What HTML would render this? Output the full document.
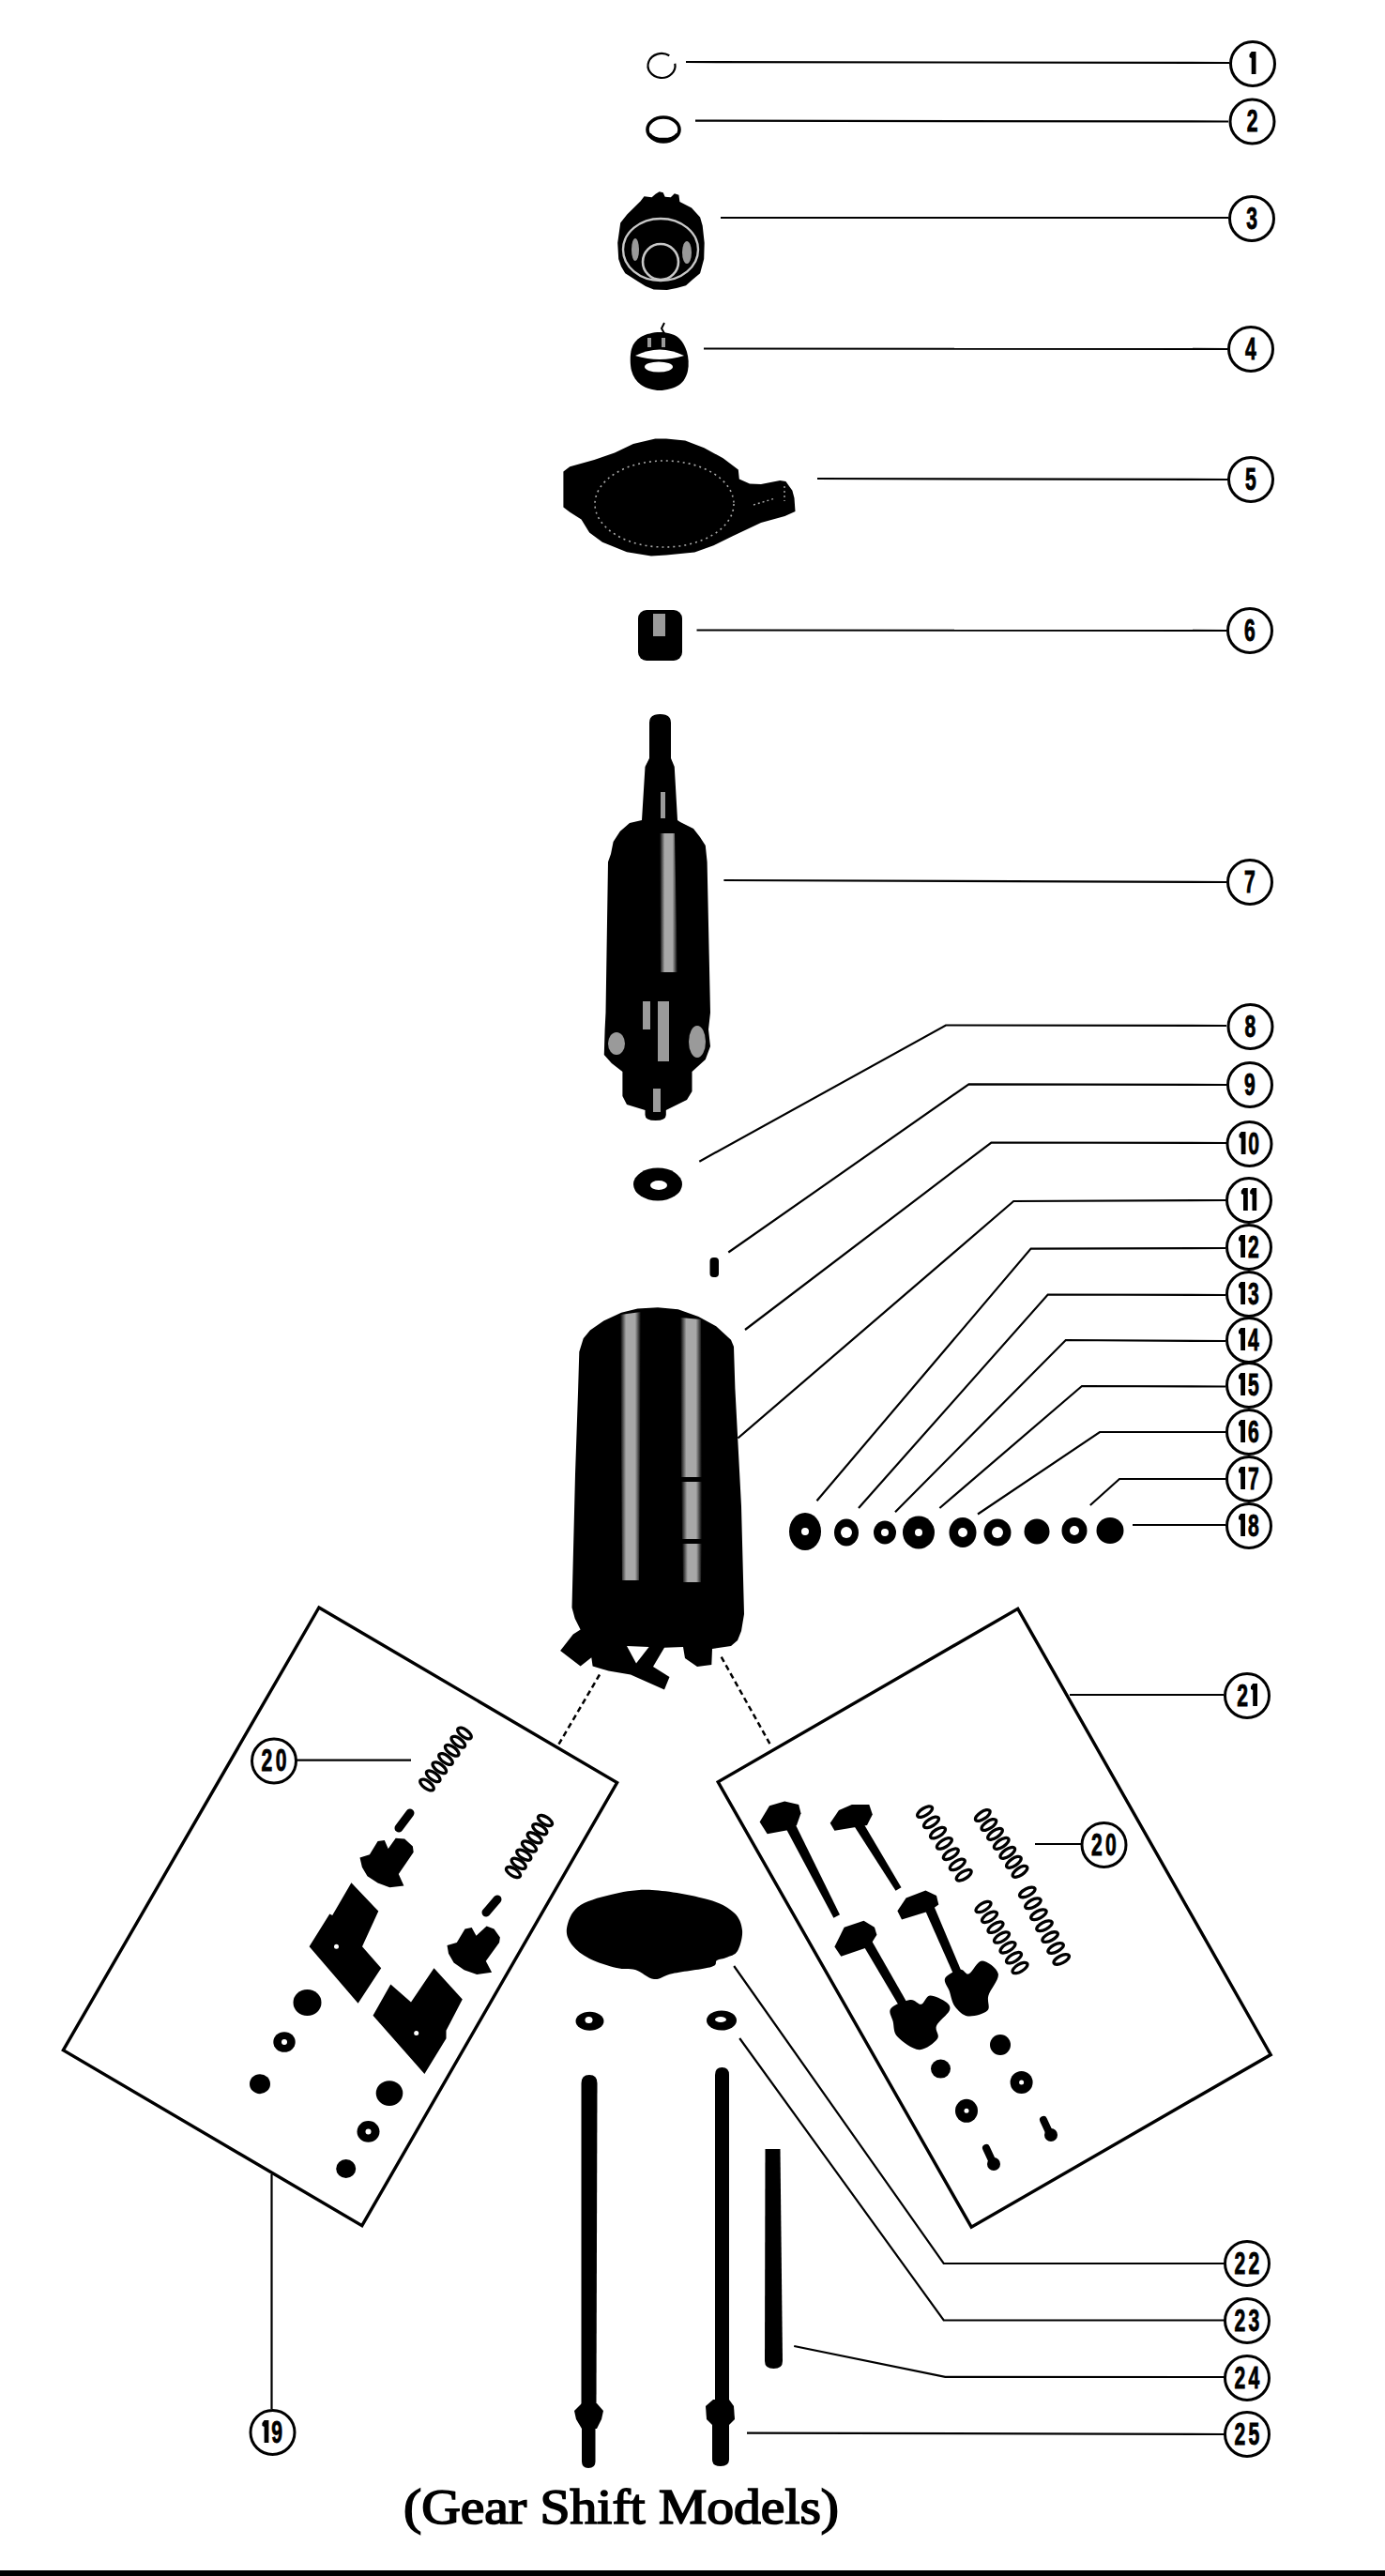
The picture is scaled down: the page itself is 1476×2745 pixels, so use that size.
<!DOCTYPE html>
<html><head><meta charset="utf-8"><title>Gear Shift Models</title>
<style>html,body{margin:0;padding:0;background:#fff;}svg{display:block;}</style></head>
<body><svg width="1476" height="2745" viewBox="0 0 1476 2745"><defs><linearGradient id="sg" x1="0" y1="0" x2="1" y2="0"><stop offset="0" stop-color="#000"/><stop offset="0.28" stop-color="#a8a8a8"/><stop offset="0.72" stop-color="#a8a8a8"/><stop offset="1" stop-color="#000"/></linearGradient></defs>
<polyline points="731.0,66.0 1310.0,67.0" fill="none" stroke="#000" stroke-width="2.2" stroke-linejoin="miter" />
<polyline points="741.0,128.6 1309.0,129.5" fill="none" stroke="#000" stroke-width="2.2" stroke-linejoin="miter" />
<polyline points="768.0,232.0 1309.0,232.0" fill="none" stroke="#000" stroke-width="2.2" stroke-linejoin="miter" />
<polyline points="750.0,371.5 1308.0,372.0" fill="none" stroke="#000" stroke-width="2.2" stroke-linejoin="miter" />
<polyline points="871.0,510.0 1308.0,511.0" fill="none" stroke="#000" stroke-width="2.2" stroke-linejoin="miter" />
<polyline points="742.5,671.5 1307.0,672.0" fill="none" stroke="#000" stroke-width="2.2" stroke-linejoin="miter" />
<polyline points="771.4,938.0 1307.0,940.0" fill="none" stroke="#000" stroke-width="2.2" stroke-linejoin="miter" />
<polyline points="745.3,1237.7 1008.0,1092.5 1307.0,1093.0" fill="none" stroke="#000" stroke-width="2.2" stroke-linejoin="miter" />
<polyline points="776.3,1334.5 1032.5,1155.3 1307.0,1156.0" fill="none" stroke="#000" stroke-width="2.2" stroke-linejoin="miter" />
<polyline points="794.0,1417.0 1056.4,1217.5 1307.0,1218.0" fill="none" stroke="#000" stroke-width="2.2" stroke-linejoin="miter" />
<polyline points="786.4,1532.5 1080.2,1280.0 1306.0,1279.0" fill="none" stroke="#000" stroke-width="2.2" stroke-linejoin="miter" />
<polyline points="870.5,1599.2 1098.6,1330.6 1306.0,1330.0" fill="none" stroke="#000" stroke-width="2.2" stroke-linejoin="miter" />
<polyline points="915.0,1607.0 1116.7,1379.5 1306.0,1380.0" fill="none" stroke="#000" stroke-width="2.2" stroke-linejoin="miter" />
<polyline points="954.0,1611.3 1135.8,1428.0 1306.0,1429.0" fill="none" stroke="#000" stroke-width="2.2" stroke-linejoin="miter" />
<polyline points="1001.4,1607.0 1153.0,1477.0 1306.0,1477.5" fill="none" stroke="#000" stroke-width="2.2" stroke-linejoin="miter" />
<polyline points="1042.0,1613.5 1172.0,1526.0 1306.0,1526.0" fill="none" stroke="#000" stroke-width="2.2" stroke-linejoin="miter" />
<polyline points="1161.8,1604.0 1193.0,1576.0 1306.0,1576.0" fill="none" stroke="#000" stroke-width="2.2" stroke-linejoin="miter" />
<polyline points="1207.0,1625.0 1306.0,1625.0" fill="none" stroke="#000" stroke-width="2.2" stroke-linejoin="miter" />
<polyline points="1140.0,1806.0 1304.0,1806.0" fill="none" stroke="#000" stroke-width="2.2" stroke-linejoin="miter" />
<polyline points="782.2,2095.0 1005.7,2412.0 1305.0,2412.0" fill="none" stroke="#000" stroke-width="2.2" stroke-linejoin="miter" />
<polyline points="788.2,2172.0 1005.7,2472.5 1305.0,2472.5" fill="none" stroke="#000" stroke-width="2.2" stroke-linejoin="miter" />
<polyline points="846.2,2500.0 1007.3,2532.8 1305.0,2533.0" fill="none" stroke="#000" stroke-width="2.2" stroke-linejoin="miter" />
<polyline points="796.0,2592.6 1305.0,2594.0" fill="none" stroke="#000" stroke-width="2.2" stroke-linejoin="miter" />
<polyline points="1103.0,1965.0 1152.0,1965.0" fill="none" stroke="#000" stroke-width="2.2" stroke-linejoin="miter" />
<polyline points="316.0,1875.7 438.0,1875.7" fill="none" stroke="#000" stroke-width="2.2" stroke-linejoin="miter" />
<polyline points="289.5,2317.0 289.5,2567.0" fill="none" stroke="#000" stroke-width="2.2" stroke-linejoin="miter" />
<polygon points="339.9,1713 657.6,1899.5 385.8,2371.7 67.4,2184.7" fill="none" stroke="#000" stroke-width="3.4"/>
<polygon points="1084.7,1714.3 1354.2,2189.5 1035.2,2373.2 765.2,1898.9" fill="none" stroke="#000" stroke-width="3.4"/>
<line x1="639" y1="1784.5" x2="595" y2="1859.5" stroke="#000" stroke-width="2.5" stroke-dasharray="6,4"/>
<line x1="768.7" y1="1765.6" x2="822.2" y2="1861.4" stroke="#000" stroke-width="2.5" stroke-dasharray="6,4"/>
<path d="M719.3,67.7 A14.5,13 0 1 1 713.3,59.3" fill="none" stroke="#000" stroke-width="2.2"/>
<ellipse cx="707" cy="138" rx="17" ry="13" fill="none" stroke="#000" stroke-width="3.6"/>
<path d="M692,143 A16,9 0 0 0 722,143" fill="none" stroke="#000" stroke-width="4"/>
<polygon points="686.5,209.3 694.6,210.3 698.6,206.8 702.7,204.3 706.7,205.3 708.7,209.8 714.8,210.3 718.8,206.3 723.4,207.8 724.4,214.9 737.0,221.4 746.1,231.6 748.7,240.6 750.7,258.8 750.2,276.0 746.1,291.2 738.0,298.0 731.0,304.3 721.0,307.0 710.8,308.9 696.6,308.4 688.0,305.0 680.4,300.3 666.3,291.2 662.0,284.0 659.2,276.0 658.2,258.8 661.2,237.6 668.3,228.5 682.5,214.4" fill="#000" />
<ellipse cx="704" cy="266" rx="40" ry="33" fill="none" stroke="#c8c8c8" stroke-width="2.4"/>
<circle cx="704" cy="279" r="19" fill="none" stroke="#c8c8c8" stroke-width="2.6"/>
<ellipse cx="677" cy="266" rx="4" ry="12" fill="#9a9a9a"/>
<ellipse cx="732" cy="269" rx="5" ry="12" fill="#9a9a9a"/>
<path d="M708,344 L705,350 L709,357" fill="none" stroke="#000" stroke-width="2"/>
<path d="M703.0,354.0 C709.5,354.0 717.2,355.5 722.0,359.0 C726.8,362.5 730.2,369.0 732.0,375.0 C733.8,381.0 734.3,389.2 733.0,395.0 C731.7,400.8 729.0,406.5 724.0,410.0 C719.0,413.5 709.8,416.0 703.0,416.0 C696.2,416.0 688.0,413.5 683.0,410.0 C678.0,406.5 674.7,401.3 673.0,395.0 C671.3,388.7 671.3,378.0 673.0,372.0 C674.7,366.0 678.0,362.0 683.0,359.0 C688.0,356.0 696.5,354.0 703.0,354.0 Z" fill="#000" />
<path d="M677,379 Q703,366 729,379 Q703,387 677,379 Z" fill="#fff"/>
<ellipse cx="702" cy="391" rx="15" ry="5.5" fill="#fff"/>
<rect x="690" y="360" width="4" height="10" fill="#9a9a9a"/>
<rect x="705" y="360" width="4" height="10" fill="#9a9a9a"/>
<polygon points="600.4,502.5 607.3,497.3 633.3,489.9 655.0,482.5 674.9,473.0 698.3,467.4 710.0,467.5 730.2,469.6 750.4,477.2 770.6,488.3 786.8,500.4 787.8,510.5 799.0,515.6 811.0,516.1 831.3,512.1 837.4,513.1 844.4,522.7 846.5,530.8 847.5,544.9 836.4,550.0 811.0,557.0 780.8,571.2 760.5,581.3 740.3,588.4 710.0,591.6 694.0,592.6 668.0,588.2 642.0,577.8 628.1,567.5 619.5,553.6 607.3,545.8 600.4,540.6" fill="#000" />
<ellipse cx="708" cy="537" rx="74" ry="46" fill="none" stroke="#aaa" stroke-width="1.6" stroke-dasharray="2,4"/><path d="M803,538 L826,531" stroke="#aaa" stroke-width="1.4" stroke-dasharray="2,3"/><path d="M836,518 L836,534" stroke="#aaa" stroke-width="1.4" stroke-dasharray="2,3"/>
<rect x="680" y="650" width="47" height="54" rx="9" ry="9" fill="#000"/>
<rect x="696" y="654" width="13" height="24" fill="#9a9a9a"/>
<path d="M692,808 L692,770 Q692,761 703.5,761 Q715,761 715,770 L715,808 L718.75,817 L722,874 L725,876 L739,883 L746,892 L751.8,901 L753.6,918.6 L757,1079 L755,1097 L757,1115 L751.8,1129 L737.5,1142 L737.5,1163 L732,1172 L709.8,1183 L709.8,1188 Q709.8,1194 698.6,1194 Q687.5,1194 687.5,1188 L687.5,1183 L668,1177 L663.4,1168 L663.4,1142 L651.8,1133 L643.8,1124 L644.6,1097 L645.5,1079 L648,918.6 L651,910 L653.6,897 L660.7,886 L671,877 L684,874 L687.5,817 Z" fill="#000"/>
<path d="M703,888 L719,888 L722,1036 L704,1036 Z" fill="url(#sg)"/>
<rect x="704" y="844" width="5" height="28" fill="#9a9a9a"/>
<rect x="701" y="1067" width="12" height="64" fill="#9a9a9a"/>
<rect x="685" y="1067" width="8" height="30" fill="#9a9a9a"/>
<ellipse cx="657" cy="1112" rx="9" ry="12" fill="#9a9a9a"/>
<ellipse cx="743" cy="1110" rx="9" ry="17" fill="#9a9a9a"/>
<rect x="696" y="1160" width="8" height="25" fill="#9a9a9a"/>
<ellipse cx="701" cy="1262" rx="26" ry="17.5" fill="#000"/>
<ellipse cx="702" cy="1263" rx="9" ry="5" fill="#fff"/>
<rect x="756.5" y="1340" width="9.5" height="21" rx="4" fill="#000"/>
<polygon points="701.0,1393.3 722.7,1395.2 744.4,1403.1 763.2,1413.2 779.0,1427.7 782.0,1435.0 783.4,1479.6 790.0,1605.0 793.0,1720.0 790.0,1738.0 786.0,1748.0 779.0,1754.0 759.0,1757.0 758.3,1774.0 743.0,1776.0 730.0,1767.0 728.0,1755.0 708.0,1755.8 696.0,1776.0 713.5,1787.0 708.0,1800.5 672.0,1784.4 648.5,1780.6 631.6,1775.4 630.3,1766.3 618.6,1775.4 597.1,1759.1 610.8,1741.6 618.6,1736.4 612.7,1724.7 609.5,1713.0 610.0,1692.0 613.0,1571.0 616.0,1484.0 617.3,1440.6 621.7,1426.2 628.9,1417.5 643.3,1407.4 662.1,1398.8 679.4,1394.4" fill="#000" />
<polygon points="668.0,1754.0 691.6,1755.0 678.0,1772.5" fill="#fff" />
<path d="M661,1401 L683,1398 L681,1684 L663,1684 Z" fill="url(#sg)"/>
<path d="M725,1404 L747,1406 L748,1574 L726,1574 Z" fill="url(#sg)"/>
<path d="M726,1579 L748,1579 L748,1640 L727,1640 Z" fill="url(#sg)"/>
<path d="M727,1645 L748,1645 L747,1686 L728,1686 Z" fill="url(#sg)"/>
<ellipse cx="858" cy="1632" rx="17" ry="20" fill="#000"/>
<circle cx="858" cy="1632" r="4" fill="#fff"/>
<ellipse cx="902" cy="1633" rx="13" ry="14.5" fill="#000"/>
<circle cx="902" cy="1633" r="6" fill="#fff"/>
<ellipse cx="943" cy="1633" rx="12" ry="12.5" fill="#000"/>
<circle cx="943" cy="1633" r="4" fill="#fff"/>
<ellipse cx="979" cy="1633" rx="17" ry="17.5" fill="#000"/>
<circle cx="979" cy="1633" r="4" fill="#fff"/>
<ellipse cx="1026" cy="1633" rx="14.5" ry="16" fill="#000"/>
<circle cx="1026" cy="1633" r="5" fill="#fff"/>
<ellipse cx="1063" cy="1633" rx="14.5" ry="14.5" fill="#000"/>
<circle cx="1063" cy="1633" r="6" fill="#fff"/>
<ellipse cx="1105" cy="1632" rx="13.5" ry="13.5" fill="#000"/>
<ellipse cx="1145" cy="1631" rx="13.5" ry="14" fill="#000"/>
<circle cx="1145" cy="1631" r="5" fill="#fff"/>
<ellipse cx="1183" cy="1631" rx="14.5" ry="14" fill="#000"/>
<path d="M604.0,2055.0 C605.0,2048.2 608.2,2038.0 616.0,2032.0 C623.8,2026.0 637.8,2022.0 651.0,2019.0 C664.2,2016.0 677.8,2013.2 695.0,2014.0 C712.2,2014.8 739.5,2020.0 754.0,2024.0 C768.5,2028.0 775.8,2032.5 782.0,2038.0 C788.2,2043.5 790.3,2050.2 791.0,2057.0 C791.7,2063.8 788.8,2074.2 786.0,2079.0 C783.2,2083.8 777.7,2084.3 774.0,2086.0 C770.3,2087.7 766.7,2087.3 764.0,2089.0 C761.3,2090.7 765.8,2093.7 758.0,2096.0 C750.2,2098.3 727.2,2100.8 717.0,2103.0 C706.8,2105.2 703.7,2109.7 697.0,2109.0 C690.3,2108.3 683.7,2101.0 677.0,2099.0 C670.3,2097.0 665.2,2099.0 657.0,2097.0 C648.8,2095.0 635.8,2091.0 628.0,2087.0 C620.2,2083.0 614.0,2078.3 610.0,2073.0 C606.0,2067.7 603.0,2061.8 604.0,2055.0 Z" fill="#000" />
<ellipse cx="628.5" cy="2153.7" rx="15" ry="10" fill="#000"/><ellipse cx="627.5" cy="2152.5" rx="4" ry="3.5" fill="#fff"/>
<ellipse cx="769" cy="2153" rx="16" ry="10.5" fill="#000"/><ellipse cx="768" cy="2152" rx="6" ry="3" fill="#fff"/>
<path d="M619.5,2220 Q619.5,2211 628,2211 Q636.5,2211 636.5,2220 L635.5,2562 L619.5,2562 Z" fill="#000"/>
<path d="M620,2561 L636,2561 L643,2569 L641,2578 L636,2588 L620,2588 L614,2578 L612,2569 Z" fill="#000"/>
<path d="M620,2586 L634.5,2586 L634.5,2623 Q634.5,2630 627,2630 Q620,2630 620,2623 Z" fill="#000"/>
<path d="M762,2211 Q762,2203 769.5,2203 Q777,2203 777,2211 L777,2560 L762,2560 Z" fill="#000"/>
<path d="M760,2557 L777,2557 L782,2564 L783,2578 L776,2585 L760,2585 L753,2578 L752,2564 Z" fill="#000"/>
<path d="M759,2584 L777,2584 L777,2621 Q777,2628 768,2628 Q759,2628 759,2621 Z" fill="#000"/>
<path d="M815.5,2290 L831.5,2290 L834,2516 Q834,2524 824.5,2524 Q815,2524 815,2516 Z" fill="#000"/>
<ellipse cx="455.0" cy="1902.0" rx="3.9" ry="8.5" transform="rotate(-54.0 455.0 1902.0)" fill="none" stroke="#000" stroke-width="3.3"/>
<ellipse cx="461.7" cy="1892.8" rx="3.9" ry="8.5" transform="rotate(-54.0 461.7 1892.8)" fill="none" stroke="#000" stroke-width="3.3"/>
<ellipse cx="468.3" cy="1883.7" rx="3.9" ry="8.5" transform="rotate(-54.0 468.3 1883.7)" fill="none" stroke="#000" stroke-width="3.3"/>
<ellipse cx="475.0" cy="1874.5" rx="3.9" ry="8.5" transform="rotate(-54.0 475.0 1874.5)" fill="none" stroke="#000" stroke-width="3.3"/>
<ellipse cx="481.7" cy="1865.3" rx="3.9" ry="8.5" transform="rotate(-54.0 481.7 1865.3)" fill="none" stroke="#000" stroke-width="3.3"/>
<ellipse cx="488.3" cy="1856.2" rx="3.9" ry="8.5" transform="rotate(-54.0 488.3 1856.2)" fill="none" stroke="#000" stroke-width="3.3"/>
<ellipse cx="495.0" cy="1847.0" rx="3.9" ry="8.5" transform="rotate(-54.0 495.0 1847.0)" fill="none" stroke="#000" stroke-width="3.3"/>
<ellipse cx="547.0" cy="1995.0" rx="3.9" ry="8.5" transform="rotate(-58.3 547.0 1995.0)" fill="none" stroke="#000" stroke-width="3.3"/>
<ellipse cx="552.7" cy="1985.8" rx="3.9" ry="8.5" transform="rotate(-58.3 552.7 1985.8)" fill="none" stroke="#000" stroke-width="3.3"/>
<ellipse cx="558.3" cy="1976.7" rx="3.9" ry="8.5" transform="rotate(-58.3 558.3 1976.7)" fill="none" stroke="#000" stroke-width="3.3"/>
<ellipse cx="564.0" cy="1967.5" rx="3.9" ry="8.5" transform="rotate(-58.3 564.0 1967.5)" fill="none" stroke="#000" stroke-width="3.3"/>
<ellipse cx="569.7" cy="1958.3" rx="3.9" ry="8.5" transform="rotate(-58.3 569.7 1958.3)" fill="none" stroke="#000" stroke-width="3.3"/>
<ellipse cx="575.3" cy="1949.2" rx="3.9" ry="8.5" transform="rotate(-58.3 575.3 1949.2)" fill="none" stroke="#000" stroke-width="3.3"/>
<ellipse cx="581.0" cy="1940.0" rx="3.9" ry="8.5" transform="rotate(-58.3 581.0 1940.0)" fill="none" stroke="#000" stroke-width="3.3"/>
<line x1="425" y1="1948" x2="437" y2="1932" stroke="#000" stroke-width="9" stroke-linecap="round"/>
<line x1="518" y1="2038" x2="530" y2="2024" stroke="#000" stroke-width="9" stroke-linecap="round"/>
<polygon points="383.5,1979.4 393.9,1976.2 402.6,1961.9 409.8,1961.1 413.7,1969.9 421.7,1958.7 431.2,1959.5 439.9,1967.5 440.7,1973.8 424.8,1996.9 430.4,2009.6 415.3,2011.2 402.6,2006.4 391.5,1999.2 385.9,1989.7" fill="#000" />
<polygon points="476.5,2073.1 486.8,2069.9 495.5,2055.6 502.7,2054.0 507.5,2062.8 518.6,2052.5 526.5,2055.6 532.9,2064.4 532.1,2069.9 517.8,2089.8 524.1,2101.7 508.2,2104.1 494.7,2099.3 483.6,2091.4 478.0,2081.8" fill="#000" />
<polygon points="329.6,2074.2 351.3,2039.5 354.2,2041.0 374.4,2006.3 403.3,2036.6 386.0,2074.2 406.2,2097.3 381.6,2134.8" fill="#000" />
<circle cx="358.5" cy="2074.2" r="2.5" fill="#fff"/>
<polygon points="397.5,2147.8 416.3,2114.6 438.0,2133.4 462.5,2097.3 492.8,2130.5 475.5,2163.7 475.5,2172.3 452.4,2210.0" fill="#000" />
<circle cx="443.7" cy="2166.6" r="2.5" fill="#fff"/>
<ellipse cx="327.5" cy="2134" rx="15" ry="14" fill="#000"/>
<ellipse cx="303" cy="2176" rx="11.7" ry="10.8" fill="#000"/>
<circle cx="303" cy="2176" r="3" fill="#fff"/>
<ellipse cx="277" cy="2220.7" rx="11" ry="10.5" fill="#000"/>
<ellipse cx="415" cy="2230.6" rx="14.3" ry="13.4" fill="#000"/>
<ellipse cx="392.5" cy="2271.4" rx="12" ry="11.3" fill="#000"/>
<circle cx="392.5" cy="2271.4" r="3" fill="#fff"/>
<ellipse cx="368.7" cy="2311" rx="10.5" ry="10" fill="#000"/>
<polygon points="809.6,1941.6 820.0,1924.3 836.2,1919.6 851.2,1923.1 853.5,1932.3 849.0,1945.0 842.0,1949.7 817.7,1954.3" fill="#000" />
<polygon points="837.1,1947.5 888.4,2043.7 895.0,2040.3 846.9,1942.5" fill="#000" />
<polygon points="884.7,1942.7 894.0,1928.9 907.8,1923.1 926.3,1923.1 929.8,1933.5 924.0,1945.0 889.4,1950.8" fill="#000" />
<polygon points="910.7,1946.6 954.5,2014.8 960.5,2011.2 919.3,1941.4" fill="#000" />
<polygon points="889.4,2074.4 899.7,2053.7 920.5,2046.7 932.0,2053.7 934.4,2061.7 926.3,2074.4 896.3,2084.8" fill="#000" />
<polygon points="918.5,2070.6 962.1,2144.3 969.9,2139.7 927.5,2065.4" fill="#000" />
<path d="M949.4,2140.3 C952.4,2136.4 964.6,2131.8 970.0,2131.0 C975.4,2130.2 978.3,2136.5 981.8,2135.7 C985.3,2134.9 986.6,2126.8 991.0,2126.4 C995.4,2126.0 1004.8,2130.7 1008.3,2133.4 C1011.8,2136.1 1013.5,2138.4 1011.8,2142.6 C1010.1,2146.8 1000.1,2153.8 998.0,2158.8 C995.9,2163.8 1002.1,2168.4 999.0,2172.6 C995.9,2176.8 986.6,2184.6 979.5,2184.2 C972.4,2183.8 961.0,2175.3 956.4,2170.3 C951.8,2165.3 952.9,2159.2 951.7,2154.2 C950.5,2149.2 946.4,2144.2 949.4,2140.3 Z" fill="#000" />
<polygon points="956.4,2036.3 965.6,2022.5 986.4,2014.4 998.0,2020.1 1000.3,2029.4 991.0,2036.3 961.0,2045.6" fill="#000" />
<polygon points="985.2,2034.1 1017.9,2107.8 1026.1,2104.2 994.8,2029.9" fill="#000" />
<path d="M1007.2,2108.0 C1009.1,2104.2 1019.2,2099.5 1023.4,2098.7 C1027.6,2097.9 1028.8,2104.8 1032.6,2103.3 C1036.4,2101.8 1041.3,2089.5 1046.5,2089.5 C1051.7,2089.5 1062.6,2097.2 1063.8,2103.3 C1065.0,2109.5 1055.3,2119.9 1053.4,2126.4 C1051.5,2132.9 1055.9,2138.9 1052.2,2142.6 C1048.5,2146.3 1037.2,2149.2 1031.4,2148.4 C1025.6,2147.6 1020.9,2142.4 1017.6,2138.0 C1014.3,2133.6 1013.5,2126.8 1011.8,2121.8 C1010.1,2116.8 1005.3,2111.8 1007.2,2108.0 Z" fill="#000" />
<ellipse cx="985.6" cy="1930.6" rx="3.9" ry="9.0" transform="rotate(58.4 985.6 1930.6)" fill="none" stroke="#000" stroke-width="3.3"/>
<ellipse cx="992.5" cy="1941.9" rx="3.9" ry="9.0" transform="rotate(58.4 992.5 1941.9)" fill="none" stroke="#000" stroke-width="3.3"/>
<ellipse cx="999.5" cy="1953.1" rx="3.9" ry="9.0" transform="rotate(58.4 999.5 1953.1)" fill="none" stroke="#000" stroke-width="3.3"/>
<ellipse cx="1006.4" cy="1964.4" rx="3.9" ry="9.0" transform="rotate(58.4 1006.4 1964.4)" fill="none" stroke="#000" stroke-width="3.3"/>
<ellipse cx="1013.3" cy="1975.7" rx="3.9" ry="9.0" transform="rotate(58.4 1013.3 1975.7)" fill="none" stroke="#000" stroke-width="3.3"/>
<ellipse cx="1020.3" cy="1986.9" rx="3.9" ry="9.0" transform="rotate(58.4 1020.3 1986.9)" fill="none" stroke="#000" stroke-width="3.3"/>
<ellipse cx="1027.2" cy="1998.2" rx="3.9" ry="9.0" transform="rotate(58.4 1027.2 1998.2)" fill="none" stroke="#000" stroke-width="3.3"/>
<ellipse cx="1047.3" cy="1934.5" rx="3.9" ry="9.0" transform="rotate(56.4 1047.3 1934.5)" fill="none" stroke="#000" stroke-width="3.3"/>
<ellipse cx="1053.9" cy="1944.5" rx="3.9" ry="9.0" transform="rotate(56.4 1053.9 1944.5)" fill="none" stroke="#000" stroke-width="3.3"/>
<ellipse cx="1060.5" cy="1954.4" rx="3.9" ry="9.0" transform="rotate(56.4 1060.5 1954.4)" fill="none" stroke="#000" stroke-width="3.3"/>
<ellipse cx="1067.2" cy="1964.4" rx="3.9" ry="9.0" transform="rotate(56.4 1067.2 1964.4)" fill="none" stroke="#000" stroke-width="3.3"/>
<ellipse cx="1073.8" cy="1974.4" rx="3.9" ry="9.0" transform="rotate(56.4 1073.8 1974.4)" fill="none" stroke="#000" stroke-width="3.3"/>
<ellipse cx="1080.4" cy="1984.3" rx="3.9" ry="9.0" transform="rotate(56.4 1080.4 1984.3)" fill="none" stroke="#000" stroke-width="3.3"/>
<ellipse cx="1087.0" cy="1994.3" rx="3.9" ry="9.0" transform="rotate(56.4 1087.0 1994.3)" fill="none" stroke="#000" stroke-width="3.3"/>
<ellipse cx="1048.0" cy="2032.0" rx="3.9" ry="9.0" transform="rotate(59.0 1048.0 2032.0)" fill="none" stroke="#000" stroke-width="3.3"/>
<ellipse cx="1054.5" cy="2042.8" rx="3.9" ry="9.0" transform="rotate(59.0 1054.5 2042.8)" fill="none" stroke="#000" stroke-width="3.3"/>
<ellipse cx="1061.0" cy="2053.7" rx="3.9" ry="9.0" transform="rotate(59.0 1061.0 2053.7)" fill="none" stroke="#000" stroke-width="3.3"/>
<ellipse cx="1067.5" cy="2064.5" rx="3.9" ry="9.0" transform="rotate(59.0 1067.5 2064.5)" fill="none" stroke="#000" stroke-width="3.3"/>
<ellipse cx="1074.0" cy="2075.3" rx="3.9" ry="9.0" transform="rotate(59.0 1074.0 2075.3)" fill="none" stroke="#000" stroke-width="3.3"/>
<ellipse cx="1080.5" cy="2086.2" rx="3.9" ry="9.0" transform="rotate(59.0 1080.5 2086.2)" fill="none" stroke="#000" stroke-width="3.3"/>
<ellipse cx="1087.0" cy="2097.0" rx="3.9" ry="9.0" transform="rotate(59.0 1087.0 2097.0)" fill="none" stroke="#000" stroke-width="3.3"/>
<ellipse cx="1094.8" cy="2016.4" rx="3.9" ry="9.0" transform="rotate(63.0 1094.8 2016.4)" fill="none" stroke="#000" stroke-width="3.3"/>
<ellipse cx="1100.9" cy="2028.3" rx="3.9" ry="9.0" transform="rotate(63.0 1100.9 2028.3)" fill="none" stroke="#000" stroke-width="3.3"/>
<ellipse cx="1106.9" cy="2040.2" rx="3.9" ry="9.0" transform="rotate(63.0 1106.9 2040.2)" fill="none" stroke="#000" stroke-width="3.3"/>
<ellipse cx="1113.0" cy="2052.2" rx="3.9" ry="9.0" transform="rotate(63.0 1113.0 2052.2)" fill="none" stroke="#000" stroke-width="3.3"/>
<ellipse cx="1119.1" cy="2064.1" rx="3.9" ry="9.0" transform="rotate(63.0 1119.1 2064.1)" fill="none" stroke="#000" stroke-width="3.3"/>
<ellipse cx="1125.1" cy="2076.0" rx="3.9" ry="9.0" transform="rotate(63.0 1125.1 2076.0)" fill="none" stroke="#000" stroke-width="3.3"/>
<ellipse cx="1131.2" cy="2087.9" rx="3.9" ry="9.0" transform="rotate(63.0 1131.2 2087.9)" fill="none" stroke="#000" stroke-width="3.3"/>
<ellipse cx="1066" cy="2179" rx="11" ry="11" fill="#000"/>
<ellipse cx="1002.5" cy="2204.6" rx="10.5" ry="10" fill="#000"/>
<ellipse cx="1088.6" cy="2219" rx="12" ry="12" fill="#000"/>
<circle cx="1088.6" cy="2219" r="2.5" fill="#fff"/>
<ellipse cx="1030" cy="2249.3" rx="12" ry="12.5" fill="#000"/>
<circle cx="1030" cy="2249.3" r="2.5" fill="#fff"/>
<line x1="1112" y1="2259" x2="1118" y2="2272" stroke="#000" stroke-width="8" stroke-linecap="round"/><circle cx="1120" cy="2275" r="7" fill="#000"/>
<line x1="1051" y1="2289" x2="1057" y2="2302" stroke="#000" stroke-width="8" stroke-linecap="round"/><circle cx="1059" cy="2306" r="7" fill="#000"/>
<circle cx="1176.5" cy="1966" r="23.5" fill="#fff" stroke="#000" stroke-width="3"/>
<text x="1169.0" y="1976.8" text-anchor="middle" font-family="Liberation Sans" font-weight="bold" font-size="33" stroke="#000" stroke-width="0.9" transform="translate(1169.0 0) scale(0.64 1) translate(-1169.0 0)">2</text>
<text x="1184.0" y="1976.8" text-anchor="middle" font-family="Liberation Sans" font-weight="bold" font-size="33" stroke="#000" stroke-width="0.9" transform="translate(1184.0 0) scale(0.64 1) translate(-1184.0 0)">0</text>
<circle cx="292" cy="1876.5" r="23.5" fill="#fff" stroke="#000" stroke-width="3"/>
<text x="284.4" y="1887.3" text-anchor="middle" font-family="Liberation Sans" font-weight="bold" font-size="33" stroke="#000" stroke-width="0.9" transform="translate(284.4 0) scale(0.64 1) translate(-284.4 0)">2</text>
<text x="299.6" y="1887.3" text-anchor="middle" font-family="Liberation Sans" font-weight="bold" font-size="33" stroke="#000" stroke-width="0.9" transform="translate(299.6 0) scale(0.64 1) translate(-299.6 0)">0</text>
<circle cx="290.5" cy="2592" r="23.5" fill="#fff" stroke="#000" stroke-width="3"/>
<path d="M281.6,2579.0 L286.4,2579.0 L286.4,2603.0 L281.6,2603.0 L281.6,2586.0 L279.4,2585.0 L279.4,2582.0 Z" fill="#000"/>
<text x="295.2" y="2602.8" text-anchor="middle" font-family="Liberation Sans" font-weight="bold" font-size="33" stroke="#000" stroke-width="0.9" transform="translate(295.2 0) scale(0.64 1) translate(-295.2 0)">9</text>
<circle cx="1335" cy="68" r="23.5" fill="#fff" stroke="#000" stroke-width="3"/>
<path d="M1333.7,55.0 L1338.5,55.0 L1338.5,79.0 L1333.7,79.0 L1333.7,62.0 L1331.5,61.0 L1331.5,58.0 Z" fill="#000"/>
<circle cx="1334.5" cy="129.5" r="23.5" fill="#fff" stroke="#000" stroke-width="3"/>
<text x="1334.5" y="140.3" text-anchor="middle" font-family="Liberation Sans" font-weight="bold" font-size="33" stroke="#000" stroke-width="0.9" transform="translate(1334.5 0) scale(0.64 1) translate(-1334.5 0)">2</text>
<circle cx="1334" cy="233" r="23.5" fill="#fff" stroke="#000" stroke-width="3"/>
<text x="1334.0" y="243.8" text-anchor="middle" font-family="Liberation Sans" font-weight="bold" font-size="33" stroke="#000" stroke-width="0.9" transform="translate(1334.0 0) scale(0.64 1) translate(-1334.0 0)">3</text>
<circle cx="1333" cy="372" r="23.5" fill="#fff" stroke="#000" stroke-width="3"/>
<text x="1333.0" y="382.8" text-anchor="middle" font-family="Liberation Sans" font-weight="bold" font-size="33" stroke="#000" stroke-width="0.9" transform="translate(1333.0 0) scale(0.64 1) translate(-1333.0 0)">4</text>
<circle cx="1333" cy="511" r="23.5" fill="#fff" stroke="#000" stroke-width="3"/>
<text x="1333.0" y="521.8" text-anchor="middle" font-family="Liberation Sans" font-weight="bold" font-size="33" stroke="#000" stroke-width="0.9" transform="translate(1333.0 0) scale(0.64 1) translate(-1333.0 0)">5</text>
<circle cx="1332" cy="672" r="23.5" fill="#fff" stroke="#000" stroke-width="3"/>
<text x="1332.0" y="682.8" text-anchor="middle" font-family="Liberation Sans" font-weight="bold" font-size="33" stroke="#000" stroke-width="0.9" transform="translate(1332.0 0) scale(0.64 1) translate(-1332.0 0)">6</text>
<circle cx="1332" cy="940" r="23.5" fill="#fff" stroke="#000" stroke-width="3"/>
<text x="1332.0" y="950.8" text-anchor="middle" font-family="Liberation Sans" font-weight="bold" font-size="33" stroke="#000" stroke-width="0.9" transform="translate(1332.0 0) scale(0.64 1) translate(-1332.0 0)">7</text>
<circle cx="1332.5" cy="1094" r="23.5" fill="#fff" stroke="#000" stroke-width="3"/>
<text x="1332.5" y="1104.8" text-anchor="middle" font-family="Liberation Sans" font-weight="bold" font-size="33" stroke="#000" stroke-width="0.9" transform="translate(1332.5 0) scale(0.64 1) translate(-1332.5 0)">8</text>
<circle cx="1332" cy="1156" r="23.5" fill="#fff" stroke="#000" stroke-width="3"/>
<text x="1332.0" y="1166.8" text-anchor="middle" font-family="Liberation Sans" font-weight="bold" font-size="33" stroke="#000" stroke-width="0.9" transform="translate(1332.0 0) scale(0.64 1) translate(-1332.0 0)">9</text>
<circle cx="1331.5" cy="1219" r="23.5" fill="#fff" stroke="#000" stroke-width="3"/>
<path d="M1322.7,1206.0 L1327.5,1206.0 L1327.5,1230.0 L1322.7,1230.0 L1322.7,1213.0 L1320.5,1212.0 L1320.5,1209.0 Z" fill="#000"/>
<text x="1336.2" y="1229.8" text-anchor="middle" font-family="Liberation Sans" font-weight="bold" font-size="33" stroke="#000" stroke-width="0.9" transform="translate(1336.2 0) scale(0.64 1) translate(-1336.2 0)">0</text>
<circle cx="1331" cy="1279" r="23.5" fill="#fff" stroke="#000" stroke-width="3"/>
<path d="M1325.0,1266.0 L1329.8,1266.0 L1329.8,1290.0 L1325.0,1290.0 L1325.0,1273.0 L1322.8,1272.0 L1322.8,1269.0 Z" fill="#000"/>
<path d="M1334.5,1266.0 L1339.2,1266.0 L1339.2,1290.0 L1334.5,1290.0 L1334.5,1273.0 L1332.2,1272.0 L1332.2,1269.0 Z" fill="#000"/>
<circle cx="1331" cy="1329" r="23.5" fill="#fff" stroke="#000" stroke-width="3"/>
<path d="M1322.2,1316.0 L1327.0,1316.0 L1327.0,1340.0 L1322.2,1340.0 L1322.2,1323.0 L1320.0,1322.0 L1320.0,1319.0 Z" fill="#000"/>
<text x="1335.8" y="1339.8" text-anchor="middle" font-family="Liberation Sans" font-weight="bold" font-size="33" stroke="#000" stroke-width="0.9" transform="translate(1335.8 0) scale(0.64 1) translate(-1335.8 0)">2</text>
<circle cx="1331" cy="1379" r="23.5" fill="#fff" stroke="#000" stroke-width="3"/>
<path d="M1322.2,1366.0 L1327.0,1366.0 L1327.0,1390.0 L1322.2,1390.0 L1322.2,1373.0 L1320.0,1372.0 L1320.0,1369.0 Z" fill="#000"/>
<text x="1335.8" y="1389.8" text-anchor="middle" font-family="Liberation Sans" font-weight="bold" font-size="33" stroke="#000" stroke-width="0.9" transform="translate(1335.8 0) scale(0.64 1) translate(-1335.8 0)">3</text>
<circle cx="1331" cy="1428" r="23.5" fill="#fff" stroke="#000" stroke-width="3"/>
<path d="M1322.2,1415.0 L1327.0,1415.0 L1327.0,1439.0 L1322.2,1439.0 L1322.2,1422.0 L1320.0,1421.0 L1320.0,1418.0 Z" fill="#000"/>
<text x="1335.8" y="1438.8" text-anchor="middle" font-family="Liberation Sans" font-weight="bold" font-size="33" stroke="#000" stroke-width="0.9" transform="translate(1335.8 0) scale(0.64 1) translate(-1335.8 0)">4</text>
<circle cx="1331" cy="1476" r="23.5" fill="#fff" stroke="#000" stroke-width="3"/>
<path d="M1322.2,1463.0 L1327.0,1463.0 L1327.0,1487.0 L1322.2,1487.0 L1322.2,1470.0 L1320.0,1469.0 L1320.0,1466.0 Z" fill="#000"/>
<text x="1335.8" y="1486.8" text-anchor="middle" font-family="Liberation Sans" font-weight="bold" font-size="33" stroke="#000" stroke-width="0.9" transform="translate(1335.8 0) scale(0.64 1) translate(-1335.8 0)">5</text>
<circle cx="1331" cy="1526" r="23.5" fill="#fff" stroke="#000" stroke-width="3"/>
<path d="M1322.2,1513.0 L1327.0,1513.0 L1327.0,1537.0 L1322.2,1537.0 L1322.2,1520.0 L1320.0,1519.0 L1320.0,1516.0 Z" fill="#000"/>
<text x="1335.8" y="1536.8" text-anchor="middle" font-family="Liberation Sans" font-weight="bold" font-size="33" stroke="#000" stroke-width="0.9" transform="translate(1335.8 0) scale(0.64 1) translate(-1335.8 0)">6</text>
<circle cx="1331" cy="1576" r="23.5" fill="#fff" stroke="#000" stroke-width="3"/>
<path d="M1322.2,1563.0 L1327.0,1563.0 L1327.0,1587.0 L1322.2,1587.0 L1322.2,1570.0 L1320.0,1569.0 L1320.0,1566.0 Z" fill="#000"/>
<text x="1335.8" y="1586.8" text-anchor="middle" font-family="Liberation Sans" font-weight="bold" font-size="33" stroke="#000" stroke-width="0.9" transform="translate(1335.8 0) scale(0.64 1) translate(-1335.8 0)">7</text>
<circle cx="1331" cy="1626" r="23.5" fill="#fff" stroke="#000" stroke-width="3"/>
<path d="M1322.2,1613.0 L1327.0,1613.0 L1327.0,1637.0 L1322.2,1637.0 L1322.2,1620.0 L1320.0,1619.0 L1320.0,1616.0 Z" fill="#000"/>
<text x="1335.8" y="1636.8" text-anchor="middle" font-family="Liberation Sans" font-weight="bold" font-size="33" stroke="#000" stroke-width="0.9" transform="translate(1335.8 0) scale(0.64 1) translate(-1335.8 0)">8</text>
<circle cx="1329" cy="1807" r="23.5" fill="#fff" stroke="#000" stroke-width="3"/>
<text x="1324.2" y="1817.8" text-anchor="middle" font-family="Liberation Sans" font-weight="bold" font-size="33" stroke="#000" stroke-width="0.9" transform="translate(1324.2 0) scale(0.64 1) translate(-1324.2 0)">2</text>
<path d="M1335.2,1794.0 L1340.0,1794.0 L1340.0,1818.0 L1335.2,1818.0 L1335.2,1801.0 L1333.0,1800.0 L1333.0,1797.0 Z" fill="#000"/>
<circle cx="1329" cy="2412" r="23.5" fill="#fff" stroke="#000" stroke-width="3"/>
<text x="1321.5" y="2422.8" text-anchor="middle" font-family="Liberation Sans" font-weight="bold" font-size="33" stroke="#000" stroke-width="0.9" transform="translate(1321.5 0) scale(0.64 1) translate(-1321.5 0)">2</text>
<text x="1336.5" y="2422.8" text-anchor="middle" font-family="Liberation Sans" font-weight="bold" font-size="33" stroke="#000" stroke-width="0.9" transform="translate(1336.5 0) scale(0.64 1) translate(-1336.5 0)">2</text>
<circle cx="1329" cy="2473" r="23.5" fill="#fff" stroke="#000" stroke-width="3"/>
<text x="1321.5" y="2483.8" text-anchor="middle" font-family="Liberation Sans" font-weight="bold" font-size="33" stroke="#000" stroke-width="0.9" transform="translate(1321.5 0) scale(0.64 1) translate(-1321.5 0)">2</text>
<text x="1336.5" y="2483.8" text-anchor="middle" font-family="Liberation Sans" font-weight="bold" font-size="33" stroke="#000" stroke-width="0.9" transform="translate(1336.5 0) scale(0.64 1) translate(-1336.5 0)">3</text>
<circle cx="1329" cy="2534" r="23.5" fill="#fff" stroke="#000" stroke-width="3"/>
<text x="1321.5" y="2544.8" text-anchor="middle" font-family="Liberation Sans" font-weight="bold" font-size="33" stroke="#000" stroke-width="0.9" transform="translate(1321.5 0) scale(0.64 1) translate(-1321.5 0)">2</text>
<text x="1336.5" y="2544.8" text-anchor="middle" font-family="Liberation Sans" font-weight="bold" font-size="33" stroke="#000" stroke-width="0.9" transform="translate(1336.5 0) scale(0.64 1) translate(-1336.5 0)">4</text>
<circle cx="1329" cy="2594" r="23.5" fill="#fff" stroke="#000" stroke-width="3"/>
<text x="1321.5" y="2604.8" text-anchor="middle" font-family="Liberation Sans" font-weight="bold" font-size="33" stroke="#000" stroke-width="0.9" transform="translate(1321.5 0) scale(0.64 1) translate(-1321.5 0)">2</text>
<text x="1336.5" y="2604.8" text-anchor="middle" font-family="Liberation Sans" font-weight="bold" font-size="33" stroke="#000" stroke-width="0.9" transform="translate(1336.5 0) scale(0.64 1) translate(-1336.5 0)">5</text>
<text x="430" y="2688.5" font-family="Liberation Serif" font-size="52" stroke="#000" stroke-width="1.7" textLength="464" lengthAdjust="spacingAndGlyphs">(Gear Shift Models)</text>
<rect x="0" y="2739" width="1476" height="6" fill="#000"/></svg></body></html>
